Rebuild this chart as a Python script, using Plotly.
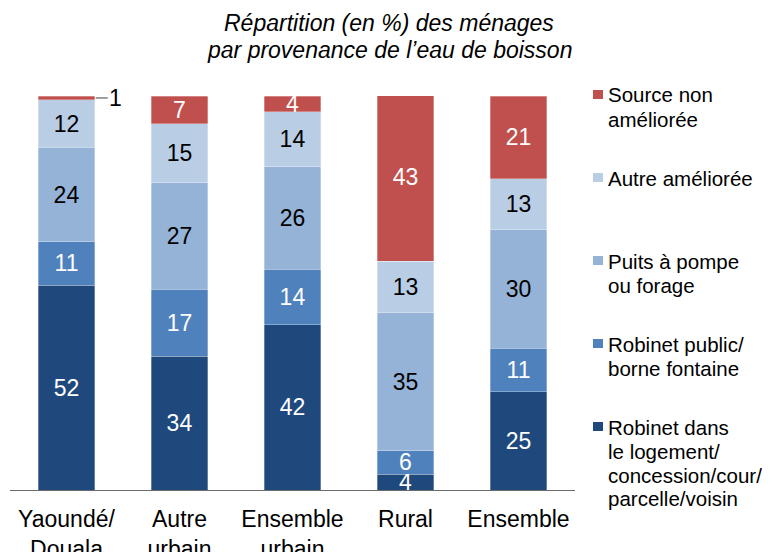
import plotly.graph_objects as go

# Catégories (axe x)
categories = ["Yaoundé/<br>Douala", "Autre<br>urbain", "Ensemble<br>urbain", "Rural", "Ensemble"]

# Séries, du bas vers le haut de la pile
robinet_logement = [52, 34, 42, 4, 25]
robinet_public = [11, 17, 14, 6, 11]
puits_pompe = [24, 27, 26, 35, 30]
autre_amelioree = [12, 15, 14, 13, 13]
source_non_amelioree = [1, 7, 4, 43, 21]

series_names = [
    "Robinet dans<br>le logement/<br>concession/cour/<br>parcelle/voisin",
    "Robinet public/<br>borne fontaine",
    "Puits à pompe<br>ou forage",
    "Autre améliorée",
    "Source non<br>améliorée",
]
series_values = [robinet_logement, robinet_public, puits_pompe, autre_amelioree, source_non_amelioree]
series_colors = ["#1F497D", "#4F81BD", "#95B3D7", "#B9CDE5", "#C0504D"]
text_colors = ["white", "white", "black", "black", "white"]

FONT = "Liberation Sans, Arial, sans-serif"

# la page html décale la figure de 8 px (marge du body)
OFF = 8
W, H = 770, 552
# zone de tracé voulue, en px de l'écran
X0, X1, Y0, Y1 = 10, 575, 96, 490
L, R = X0 - OFF, W - (X1 - OFF)
T, B = Y0 - OFF, H - (Y1 - OFF)
pw, ph = X1 - X0, Y1 - Y0


def px_x(p):
    return (p - X0) / pw


def px_y(p):
    return (Y1 - p) / ph


fig = go.Figure()
for name, vals, col, tcol in zip(series_names, series_values, series_colors, text_colors):
    fig.add_trace(go.Bar(
        x=categories,
        y=vals,
        name=name,
        marker=dict(color=col, line=dict(color="rgba(255,255,255,0.5)", width=0.6)),
        text=[str(v) if v >= 3 else "" for v in vals],
        textposition="inside",
        insidetextanchor="middle",
        textangle=0,
        constraintext="none",
        textfont=dict(family=FONT, size=23, color=tcol),
        showlegend=False,
        hoverinfo="skip",
    ))

# petite valeur "1" hors de la barre Yaoundé/Douala
fig.add_annotation(
    x=0.25, y=99.5,
    xref="x", yref="y",
    text=str(source_non_amelioree[0]),
    showarrow=True, arrowhead=0, arrowwidth=1, arrowcolor="#404040",
    ax=21, ay=0, standoff=1,
    font=dict(family=FONT, size=23, color="black"),
    xanchor="center",
)

# titre
for k, line in enumerate(["Répartition (en %) des ménages", "par provenance de l’eau de boisson"]):
    fig.add_annotation(
        x=px_x(389), y=px_y(23 + k * 27),
        xref="paper", yref="paper",
        text="<i>" + line + "</i>", showarrow=False,
        xanchor="center", yanchor="middle",
        font=dict(family=FONT, size=23, color="black"),
    )

# légende dessinée à la main (espacement régulier comme l'original)
legend_order = list(range(len(series_names)))[::-1]
first_y = 95
item_step = 83
line_step = 24
for i, idx in enumerate(legend_order):
    y0 = first_y + i * item_step
    fig.add_shape(
        type="rect", xref="paper", yref="paper",
        x0=px_x(593), x1=px_x(603), y0=px_y(y0 - 5), y1=px_y(y0 + 4),
        fillcolor=series_colors[idx], line=dict(width=0),
    )
    for j, line in enumerate(series_names[idx].split("<br>")):
        fig.add_annotation(
            x=px_x(606), y=px_y(y0 + j * line_step),
            xref="paper", yref="paper",
            text=line, showarrow=False,
            xanchor="left", yanchor="middle",
            font=dict(family=FONT, size=20.5, color="black"),
        )

fig.update_layout(
    width=W, height=H,
    barmode="stack",
    bargap=0.5,
    plot_bgcolor="white",
    paper_bgcolor="white",
    margin=dict(l=L, r=R, t=T, b=B),
    uniformtext=dict(minsize=23, mode="show"),
    xaxis=dict(
        showline=True, linecolor="#6b6b6b", linewidth=1,
        ticks="", showgrid=False, automargin=False,
        ticklabelstandoff=8,
        tickfont=dict(family=FONT, size=23, color="black"),
    ),
    yaxis=dict(range=[0, 100], visible=False, showgrid=False, automargin=False),
)

fig.write_html("out.html")
